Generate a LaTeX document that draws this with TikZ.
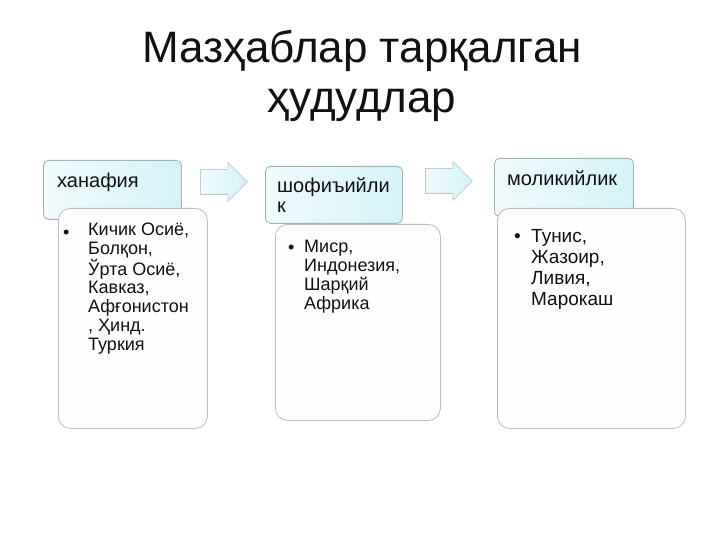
\documentclass[tikz,border=0pt]{standalone}
\usepackage{fontspec}
\setmainfont{Liberation Sans}
\usetikzlibrary{shapes.arrows}
\definecolor{hdL}{HTML}{F0FAFC}
\definecolor{hdR}{HTML}{D4F3F8}
\definecolor{hdDraw}{HTML}{9FB2B4}
\definecolor{bdDraw}{HTML}{BDBDBD}
\definecolor{bdFill}{HTML}{FEFEFE}
\definecolor{arDraw}{HTML}{BFCDCF}
\definecolor{txt}{HTML}{111111}
\tikzset{
  hdbox/.style={draw=hdDraw, left color=hdL, right color=hdR, rounded corners=5pt,
    line width=0.8pt, anchor=north west, inner sep=0pt},
  bdbox/.style={draw=bdDraw, fill=bdFill, rounded corners=12pt, line width=0.8pt,
    anchor=north west, inner sep=0pt},
  blockarrow/.style={single arrow, draw=arDraw, left color=hdL, right color=hdR,
    line width=0.8pt, inner xsep=0pt, inner ysep=12pt, text height=0pt, text depth=0pt,
    single arrow head extend=7pt, minimum height=47pt, anchor=west},
  hdtext/.style={font=\fontsize{20}{20}\selectfont, text=txt, anchor=base west,
    inner sep=0pt, align=left},
  bdtext/.style={font=\fontsize{18}{18.67}\selectfont, text=txt, anchor=base west,
    inner sep=0pt, align=left},
  bullet/.style={font=\fontsize{18}{18}\selectfont, text=txt, anchor=base west, inner sep=0pt}
}
\begin{document}
\begin{tikzpicture}[x=1pt,y=-1pt]
\useasboundingbox[fill=white] (0,0) rectangle (720,540);

% title (base anchor = last line)
\node[font=\fontsize{44}{50}\selectfont, align=center, text=txt, anchor=base, inner sep=0pt]
  (title) at (362,113) {Мазҳаблар тарқалган\\ҳудудлар};

% column 1
\node[hdbox, minimum width=138pt, minimum height=59pt] (h1) at (43,160) {};
\node[bdbox, minimum width=149pt, minimum height=220pt] (b1) at (58,208) {};
\node[hdtext] (h1t) at (57,188) {ханафия};
\node[bullet] (b1d) at (63,238) {•};
\node[bdtext] (b1t) at (88,350) {Кичик Осиё,\\Болқон,\\Ўрта Осиё,\\Кавказ,\\Афғонистон\\, Ҳинд.\\Туркия};

% column 2
\node[hdbox, minimum width=137pt, minimum height=57pt] (h2) at (265,166) {};
\node[bdbox, minimum width=165pt, minimum height=196pt] (b2) at (275,224) {};
\node[hdtext] (h2t) at (277,212) {шофиъийли\\к};
\node[bullet] (b2d) at (288,253) {•};
\node[bdtext] (b2t) at (304,309) {Миср,\\Индонезия,\\Шарқий\\Африка};

% column 3
\node[hdbox, minimum width=139pt, minimum height=58pt] (h3) at (494,158) {};
\node[bdbox, minimum width=188pt, minimum height=220pt] (b3) at (497,208) {};
\node[hdtext] (h3t) at (507,186) {моликийлик};
\node[bullet, font=\fontsize{19}{19}\selectfont] (b3d) at (514,243) {•};
\node[bdtext, font=\fontsize{19}{20.7}\selectfont] (b3t) at (531,305) {Тунис,\\Жазоир,\\Ливия,\\Марокаш};

% arrows
\node[blockarrow] (a1) at (200,182) {};
\node[blockarrow] (a2) at (425,181) {};
\end{tikzpicture}
\end{document}
